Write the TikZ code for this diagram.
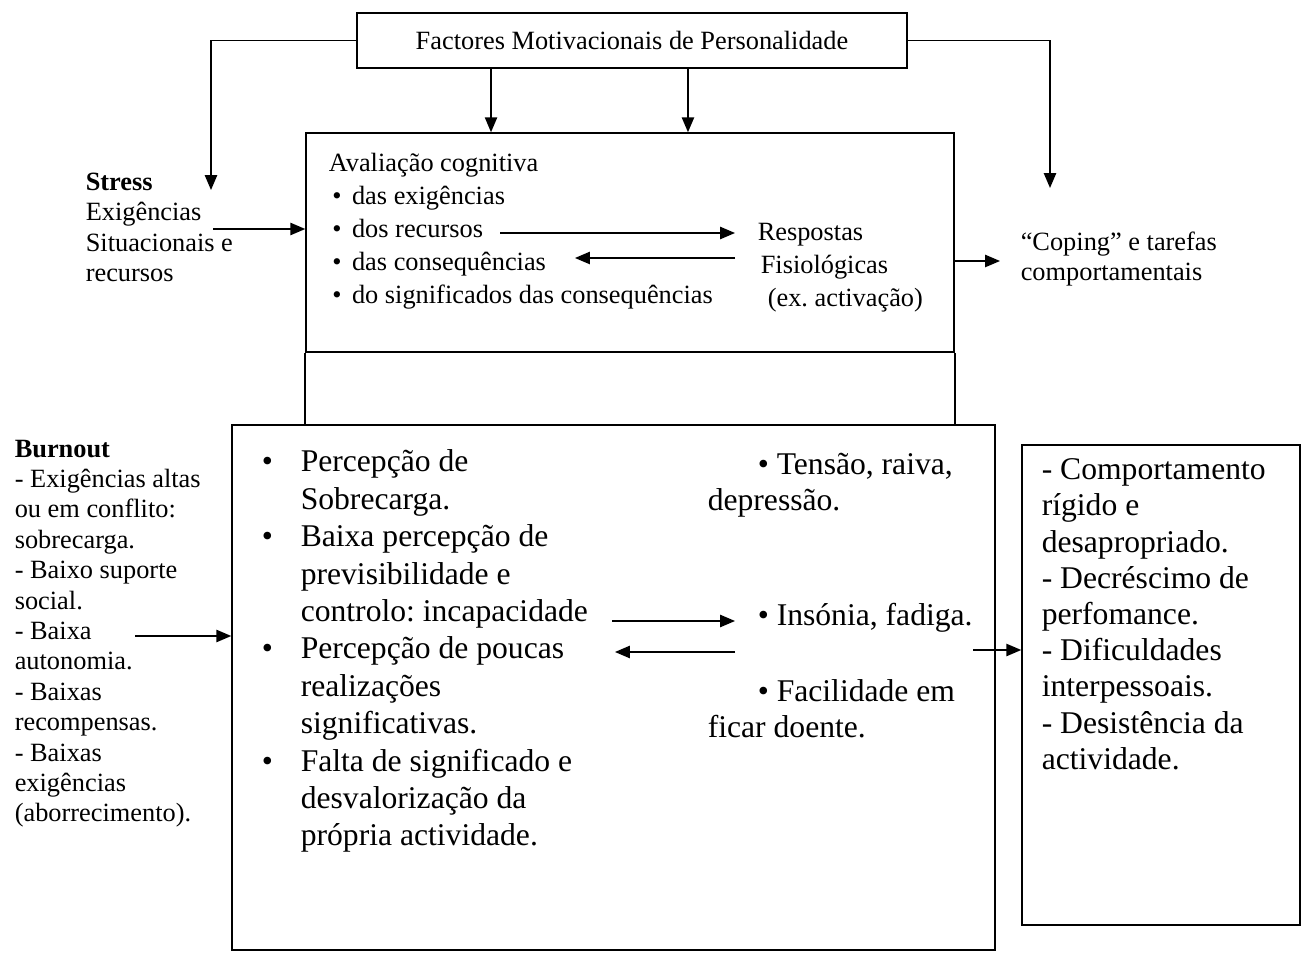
\documentclass[tikz,border=0pt]{standalone}
\usepackage{fontspec}
\setmainfont{Liberation Serif}
\usetikzlibrary{arrows.meta,positioning}
\frenchspacing

\newcommand{\marca}{\makebox[0.78cm][l]{•}}
\newcommand{\recuo}{\hspace*{0.78cm}}
\newcommand{\pto}{•\hspace{6pt}}

\begin{document}
\begin{tikzpicture}[x=0.02cm, y=-0.02cm, line width=0.9pt,
    >={Triangle[length=8.5pt,width=7pt]},
    box/.style={draw, rectangle, inner sep=0},
    txt/.style={anchor=north west, align=left, inner sep=0},
    small/.style={txt, font={\fontsize{15}{17.3}\selectfont}},
    mid/.style={txt, font={\fontsize{15}{18.8}\selectfont}},
    big/.style={txt, font={\fontsize{18}{21.3}\selectfont}},
    bigr/.style={txt, font={\fontsize{18}{20.6}\selectfont}}]
    \useasboundingbox (0,0) rectangle (1303,956);

    % caixas
    \node [box, minimum width=11cm, minimum height=1.1cm, font={\fontsize{15}{18}\selectfont}] (fmp) at (632,40.5) {Factores Motivacionais de Personalidade};
    \node [box, minimum width=12.96cm, minimum height=4.38cm] (aval) at (630,242.5) {};
    \node [box, minimum width=15.26cm, minimum height=10.5cm] (sint) at (613.5,687.5) {};
    \node [box, minimum width=5.56cm, minimum height=9.6cm] (consq) at (1161,685) {};
    \draw (aval.south west) -- (aval.south west |- sint.north);
    \draw (aval.south east) -- (aval.south east |- sint.north);

    % textos
    \node [small] (stress) at (85,172) {\textbf{Stress}\\Exigências\\Situacionais e\\recursos};
    \node [mid] (avtxt) at (328,152) {Avaliação cognitiva\\\hspace*{2pt}\pto das exigências\\\hspace*{2pt}\pto dos recursos\\\hspace*{2pt}\pto das consequências\\\hspace*{2pt}\pto do significados das consequências};
    \node [mid, inner xsep=0.44cm] (resp) at (735,222) {Respostas\\\hspace*{0.06cm}Fisiológicas\\\hspace*{0.2cm}(ex. activação)};
    \node [small, inner xsep=0.4cm] (coping) at (1000,231) {“Coping” e tarefas\\comportamentais};
    \node [small] (burn) at (14,439) {\textbf{Burnout}\\- Exigências altas\\ou em conflito:\\sobrecarga.\\- Baixo suporte\\social.\\- Baixa\\autonomia.\\- Baixas\\recompensas.\\- Baixas\\exigências\\(aborrecimento).};
    \node [big] (perc) at (261,449) {\marca Percepção de\\\recuo Sobrecarga.\\\marca Baixa percepção de\\\recuo previsibilidade e\\\recuo controlo: incapacidade\\\marca Percepção de poucas\\\recuo realizações\\\recuo significativas.\\\marca Falta de significado e\\\recuo desvalorização da\\\recuo própria actividade.};
    \node [bigr] (tens) at (707,452) {\hspace*{1cm}• Tensão, raiva,\\depressão.};
    \node [big, inner xsep=0.44cm] (ins) at (735,602) {• Insónia, fadiga.};
    \node [bigr] (facil) at (707,679) {\hspace*{1cm}• Facilidade em\\ficar doente.};
    \node [bigr] (cqtxt) at (1041,458) {- Comportamento\\rígido e\\desapropriado.\\- Decréscimo de\\perfomance.\\- Dificuldades\\interpessoais.\\- Desistência da\\actividade.};

    % pontos soltos das setas
    \coordinate (stin) at (211,190);
    \coordinate (copin) at (1050,188);
    \coordinate (stout) at (213,229);
    \coordinate (rec) at (500,233);
    \coordinate (cons) at (575,258);
    \coordinate (bout) at (135,636);
    \coordinate (inc) at (612,621);
    \coordinate (outc) at (615,652);
    \coordinate (sout) at (973,650);

    % setas
    \draw [->] (fmp.west) -| (stin);
    \draw [->] (fmp.east) -| (copin);
    \draw [->] ([xshift=-2.82cm]fmp.south) -- ([xshift=-2.82cm]fmp.south |- aval.north);
    \draw [->] ([xshift=1.12cm]fmp.south) -- ([xshift=1.12cm]fmp.south |- aval.north);
    \draw [->] (stout) -- (stout -| aval.west);
    \draw [->] (rec) -- (rec -| resp.west);
    \draw [->] (cons -| resp.west) -- (cons);
    \draw [->] ([yshift=-0.37cm]aval.east) -- ([yshift=-0.37cm]aval.east -| coping.west);
    \draw [->] (bout) -- (bout -| sint.west);
    \draw [->] (inc) -- (inc -| ins.west);
    \draw [->] (outc -| ins.west) -- (outc);
    \draw [->] (sout) -- (sout -| consq.west);
\end{tikzpicture}
\end{document}
